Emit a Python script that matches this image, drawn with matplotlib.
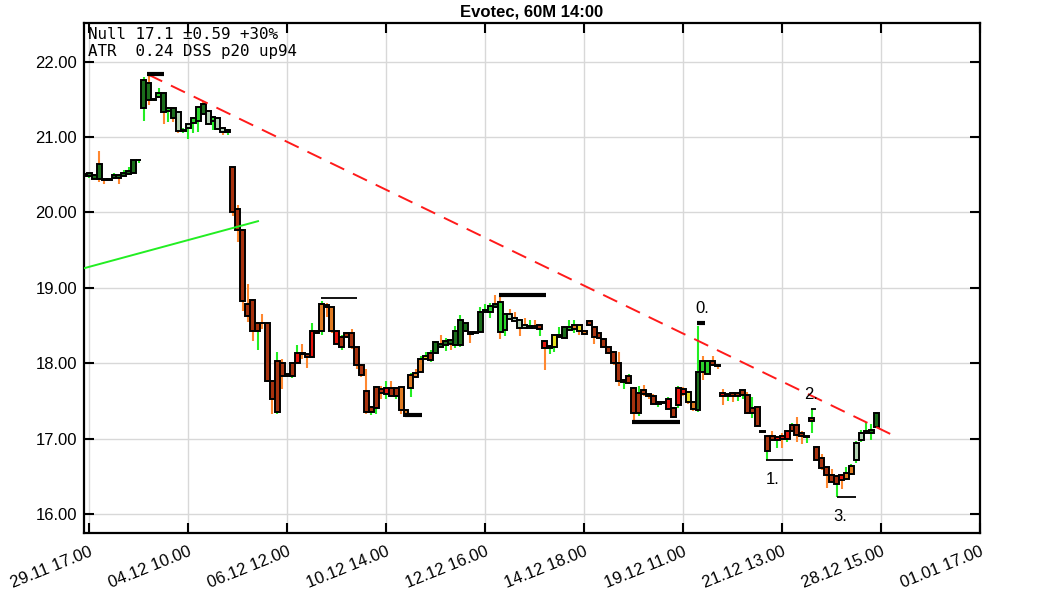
import numpy as np
import matplotlib.pyplot as plt

# hourly candles, index -1 .. 159 (index 0 = first x tick)
opens = [20.51, 20.48, 20.50, 20.64, 20.45, 20.43, 20.46, 20.50, 20.48, 20.51, 20.53, 20.69,
         21.38, 21.72, 21.49, 21.53, 21.59, 21.34, 21.39, 21.33, 21.08, 21.12, 21.19, 21.22,
         21.44, 21.35, 21.21, 21.26, 21.12, 21.07,
         20.61, 20.04, 19.77, 18.79, 18.84, 18.43, 18.54, 18.54, 17.77, 17.35, 18.01, 17.83,
         17.83, 18.01, 18.14, 18.12, 18.08, 18.43, 18.43, 18.77, 18.74, 18.43, 18.21, 18.35,
         18.40, 18.21, 17.98, 17.63, 17.35, 17.40, 17.66, 17.59, 17.67, 17.57, 17.68, 17.38,
         17.67, 17.87, 17.89, 18.06, 18.04, 18.14, 18.25, 18.24, 18.31, 18.24, 18.24, 18.53,
         18.42, 18.40, 18.42, 18.68, 18.68, 18.78, 18.81, 18.44, 18.65, 18.60, 18.58, 18.51,
         18.47, 18.49, 18.46, 18.29, 18.20, 18.21, 18.35, 18.34, 18.44, 18.46, 18.51, 18.43,
         18.51, 18.48, 18.40, 18.32, 18.22, 18.15, 18.00, 17.75, 17.74, 17.67, 17.34, 17.64,
         17.59, 17.57, 17.46, 17.49, 17.39, 17.40, 17.45, 17.66, 17.62, 17.49, 17.38, 18.03,
         17.86, 18.03, 17.98,
         17.60, 17.56, 17.60, 17.56, 17.58, 17.58, 17.34, 17.42, 17.09, 16.84, 17.03, 16.98,
         17.03, 16.99, 17.10, 17.18, 17.07, 17.02, 17.24, 16.89, 16.74, 16.63, 16.52, 16.40,
         16.52, 16.46, 16.53, 16.72, 16.98, 17.07, 17.08, 17.16]
closes = [20.48, 20.52, 20.45, 20.45, 20.43, 20.45, 20.50, 20.46, 20.52, 20.55, 20.69, 20.70,
          21.76, 21.49, 21.50, 21.59, 21.33, 21.39, 21.26, 21.08, 21.10, 21.17, 21.26, 21.40,
          21.31, 21.18, 21.27, 21.11, 21.07, 21.10,
          20.01, 19.77, 18.82, 18.63, 18.43, 18.54, 18.53, 17.77, 17.53, 18.03, 17.83, 17.86,
          18.01, 18.13, 18.12, 18.08, 18.43, 18.40, 18.79, 18.74, 18.43, 18.26, 18.35, 18.40,
          18.21, 17.98, 17.84, 17.35, 17.42, 17.68, 17.60, 17.67, 17.57, 17.67, 17.38, 17.30,
          17.85, 17.82, 18.06, 18.09, 18.13, 18.28, 18.22, 18.29, 18.25, 18.43, 18.57, 18.43,
          18.39, 18.42, 18.68, 18.71, 18.76, 18.75, 18.42, 18.65, 18.59, 18.56, 18.47, 18.47,
          18.49, 18.47, 18.51, 18.20, 18.23, 18.37, 18.37, 18.48, 18.48, 18.51, 18.43, 18.39,
          18.56, 18.35, 18.33, 18.22, 18.14, 18.00, 17.76, 17.78, 17.83, 17.34, 17.60, 17.59,
          17.56, 17.46, 17.49, 17.47, 17.52, 17.29, 17.67, 17.59, 17.48, 17.39, 17.89, 17.89,
          18.03, 17.98, 17.96,
          17.56, 17.59, 17.56, 17.60, 17.64, 17.34, 17.40, 17.17, 17.10, 17.03, 16.98, 17.02,
          16.99, 17.10, 17.18, 17.05, 17.04, 17.03, 17.28, 16.72, 16.61, 16.52, 16.43, 16.51,
          16.45, 16.55, 16.64, 16.94, 17.08, 17.10, 17.11, 17.34]
highs = [20.53, 20.53, 20.51, 20.81, 20.46, 20.46, 20.52, 20.51, 20.57, 20.60, 20.70, 20.71,
         21.80, 21.83, 21.51, 21.65, 21.60, 21.40, 21.40, 21.34, 21.12, 21.18, 21.27, 21.41,
         21.48, 21.36, 21.28, 21.27, 21.13, 21.11,
         20.61, 20.10, 19.78, 19.05, 18.85, 18.55, 18.66, 18.55, 17.78, 18.15, 18.06, 17.87,
         18.02, 18.24, 18.25, 18.13, 18.53, 18.44, 18.82, 18.80, 18.75, 18.44, 18.38, 18.41,
         18.46, 18.22, 17.99, 17.92, 17.43, 17.70, 17.70, 17.76, 17.77, 17.68, 17.69, 17.39,
         17.87, 17.93, 18.10, 18.15, 18.18, 18.30, 18.37, 18.33, 18.32, 18.50, 18.64, 18.54,
         18.43, 18.43, 18.74, 18.78, 18.80, 18.90, 18.90, 18.66, 18.72, 18.68, 18.59, 18.60,
         18.57, 18.57, 18.52, 18.30, 18.24, 18.38, 18.48, 18.49, 18.58, 18.58, 18.52, 18.44,
         18.57, 18.49, 18.41, 18.33, 18.23, 18.16, 18.15, 17.79, 17.86, 17.68, 17.70, 17.71,
         17.60, 17.59, 17.50, 17.50, 17.55, 17.42, 17.70, 17.68, 17.63, 17.50, 18.49, 18.10,
         18.04, 18.10, 17.99,
         17.66, 17.60, 17.62, 17.61, 17.65, 17.62, 17.55, 17.43, 17.11, 17.04, 17.10, 17.03,
         17.07, 17.11, 17.21, 17.29, 17.10, 17.04, 17.39, 16.90, 16.80, 16.64, 16.60, 16.52,
         16.53, 16.62, 16.66, 16.97, 17.12, 17.22, 17.20, 17.35]
lows = [20.45, 20.46, 20.44, 20.41, 20.38, 20.42, 20.45, 20.38, 20.47, 20.50, 20.52, 20.66,
        21.22, 21.42, 21.48, 21.52, 21.18, 21.20, 21.20, 21.06, 21.06, 20.98, 21.05, 21.07,
        21.30, 21.16, 21.10, 21.09, 21.03, 21.03,
        19.95, 19.61, 18.69, 18.55, 18.30, 18.18, 18.45, 17.75, 17.33, 17.33, 17.66, 17.82,
        17.80, 18.00, 18.05, 17.94, 18.07, 18.39, 18.38, 18.62, 18.40, 18.24, 18.18, 18.33,
        18.19, 17.92, 17.82, 17.33, 17.32, 17.33, 17.52, 17.53, 17.55, 17.52, 17.33, 17.29,
        17.55, 17.80, 17.88, 18.05, 18.02, 18.12, 18.20, 18.16, 18.17, 18.20, 18.22, 18.41,
        18.27, 18.39, 18.40, 18.67, 18.60, 18.74, 18.32, 18.36, 18.58, 18.55, 18.36, 18.46,
        18.46, 18.46, 18.36, 17.91, 18.12, 18.15, 18.34, 18.33, 18.43, 18.40, 18.38, 18.37,
        18.50, 18.26, 18.32, 18.20, 18.12, 17.98, 17.70, 17.66, 17.73, 17.25, 17.30, 17.57,
        17.53, 17.44, 17.42, 17.46, 17.38, 17.27, 17.40, 17.57, 17.46, 17.37, 17.36, 17.78,
        17.85, 17.96, 17.92,
        17.45, 17.50, 17.48, 17.50, 17.52, 17.33, 17.28, 17.15, 17.08, 16.72, 16.97, 16.88,
        16.88, 16.95, 17.09, 16.95, 16.93, 16.94, 17.07, 16.70, 16.58, 16.35, 16.41, 16.23,
        16.33, 16.45, 16.52, 16.68, 16.96, 17.06, 16.98, 17.15]
# body colour state per candle
states = list("GGGGGGGGGGGG"
              "GGGLGLGPPPLLGPLPPP"
              "BBBBBBBBBBBBBRBBRBOOORBBBBBBBBBRBB"
              "OOOOOYBGGGGGGGGGGGLGLLPPPPP"
              "YBRBYBGLOYOBBBBBBBBBBBBBBBBRBRRYOGLL"
              "BBRBBBBBBBBBBRRRBBBRBBBBBBROOPPG")

tick_labels = ["29.11 17.00", "04.12 10.00", "06.12 12.00", "10.12 14.00", "12.12 16.00",
               "14.12 18.00", "19.12 11.00", "21.12 13.00", "28.12 15.00", "01.01 17.00"]

# trend lines (x index, price)
red_line_x = [11.9, 163.2]
red_line_y = [21.83, 17.02]
green_line_x = [-1.1, 34.1]
green_line_y = [19.26, 19.885]

# black level markers: (x start, x end, price, thick)
levels = [(11.7, 15.2, 21.84, True), (46.9, 54.0, 18.87, False), (63.8, 67.2, 17.31, True),
          (82.8, 92.2, 18.90, True), (109.6, 119.3, 17.22, True), (122.7, 124.4, 18.54, True),
          (136.8, 142.1, 16.72, False), (145.9, 146.9, 17.39, False), (151.0, 155.0, 16.23, False)]
wave_labels = ["0.", "1.", "2.", "3."]
wave_x = [122.4, 136.6, 144.4, 150.3]
wave_y = [18.73, 16.46, 17.59, 15.97]

colors = {"G": "#1b6e1b", "L": "#2bd22b", "P": "#b3d3b3", "B": "#a8320e",
          "R": "#e8140c", "O": "#e07b22", "Y": "#e6e01e"}

plt.rcParams['font.family'] = ['Liberation Sans', 'DejaVu Sans']
fig = plt.figure(figsize=(10.63, 5.91), dpi=100)
ax = fig.add_axes([0.079, 0.0976, 0.843, 0.863])

x = np.arange(-1, len(opens) - 1)
o = np.array(opens)
c = np.array(closes)
wick_col = np.where(c >= o, "#22ee22", "#ff8830")
ax.vlines(x, lows, highs, colors=wick_col, linewidth=1.5, zorder=2)
ax.bar(x, c - o, bottom=o, width=1.0, color=[colors[s] for s in states],
       edgecolor="black", linewidth=1.4, zorder=3)

ax.plot(red_line_x, red_line_y, color="#ff1a1a", linewidth=1.4, dashes=(8, 5), zorder=4)
ax.plot(green_line_x, green_line_y, color="#22ee22", linewidth=1.4, zorder=4)

for x0, x1, lvl, thick in levels:
    ax.plot([x0, x1], [lvl, lvl], color="black", linewidth=3 if thick else 1.3, zorder=5,
            solid_capstyle="butt")

for lab, wx, wy in zip(wave_labels, wave_x, wave_y):
    ax.text(wx, wy, lab, fontsize=12, ha="left", va="center", zorder=6)

ax.annotate("Null 17.1 \u00b10.59 +30%\nATR  0.24 DSS p20 up94", xy=(0, 1),
            xycoords="axes fraction", xytext=(4, -4), textcoords="offset pixels",
            ha="left", va="top", fontsize=11.4, family="DejaVu Sans Mono", linespacing=1.12)

ax.set_xlim(-1.07, 180)
ax.set_ylim(15.744, 22.51)
ax.set_xticks(np.arange(0, 181, 20))
ax.set_xticklabels(tick_labels, rotation=22, ha="right", rotation_mode="anchor")
ax.set_yticks(np.arange(16, 23, 1))
ax.set_yticklabels([f"{v:.2f}" for v in np.arange(16, 23, 1)])
ax.tick_params(direction="in", length=7, width=1.5, labelsize=12, top=True, right=True)
ax.tick_params(axis="x", pad=8)
ax.tick_params(axis="y", pad=5)
ax.grid(True, color="#d8d8d8", linewidth=1.0, zorder=0)
ax.set_axisbelow(True)
for sp in ax.spines.values():
    sp.set_linewidth(1.6)
ax.set_title("Evotec, 60M 14:00", fontsize=12, fontweight="bold", pad=5)

plt.savefig("out.png", dpi=100)
